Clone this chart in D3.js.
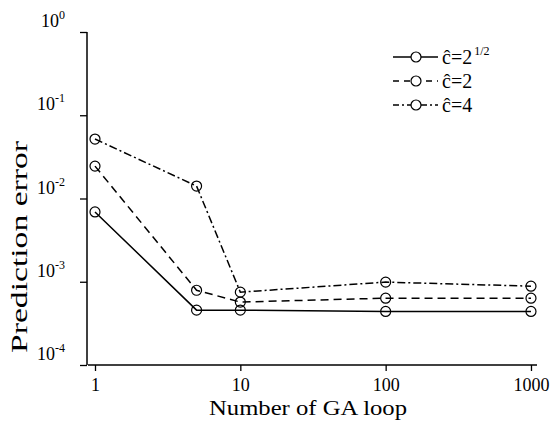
<!DOCTYPE html>
<html><head><meta charset="utf-8">
<script src="https://cdn.jsdelivr.net/npm/d3@7"></script>
<style>
body{margin:0;background:#fff;}
svg text{font-family:"Liberation Serif","Times New Roman",serif;fill:#000;}
</style></head>
<body><svg id="c" width="559" height="426"></svg>
<script>
const loops = [1, 5, 10, 100, 1000];
const seriesNames = ["ĉ=2", "ĉ=2", "ĉ=4"];
const seriesSup = ["1/2", "", ""];
const errSqrt2 = [0.0069, 0.000456, 0.000456, 0.00044, 0.00044];
const err2 = [0.0245, 0.00079, 0.00057, 0.000635, 0.000635];
const err4 = [0.0518, 0.0141, 0.00075, 0.00099, 0.000885];
const xTicks = [1, 10, 100, 1000];
const yTicks = [1, 0.1, 0.01, 0.001, 0.0001];
const yTickExp = ["0", "-1", "-2", "-3", "-4"];

const series = [
  {name: seriesNames[0], sup: seriesSup[0], values: errSqrt2, dash: null, legDash: null},
  {name: seriesNames[1], sup: seriesSup[1], values: err2, dash: "8,5", legDash: "6,5"},
  {name: seriesNames[2], sup: seriesSup[2], values: err4, dash: "8,3,2,3", legDash: "6,3,2,3"}
];

const svg = d3.select("#c");
const x = d3.scaleLog().domain([0.895, 1100]).range([88, 537]);
const y = d3.scaleLog().domain([1e-4, 1]).range([365, 32]);

// x axis
const minors = [];
for (let d = 1; d <= 100; d *= 10) for (let k = 2; k <= 9; k++) minors.push(d * k);
const gx = svg.append("g").attr("transform", "translate(0,365)");
gx.call(d3.axisBottom(x).tickValues(minors).tickSize(4).tickFormat(""));
gx.call(d3.axisBottom(x).tickValues(xTicks).tickSize(6).tickFormat(d3.format("d")).tickPadding(7));
gx.attr("font-family", "Liberation Serif").attr("font-size", 18);
gx.select(".domain").attr("d", "M88,0H537").attr("stroke-width", 1.5);
gx.selectAll("line").attr("stroke-width", 1.3);
gx.selectAll("text").attr("font-size", 18);

// y axis
const gy = svg.append("g").attr("transform", "translate(87,0)");
gy.call(d3.axisLeft(y).tickValues(yTicks).tickSize(7).tickFormat(""));
gy.select(".domain").attr("d", "M0,32V365").attr("stroke-width", 1.5);
gy.selectAll("line").attr("stroke-width", 1.3);
yTicks.forEach((t, i) => {
  const tx = svg.append("text").attr("x", 65).attr("y", y(t) - 5)
    .attr("text-anchor", "end").attr("font-size", 18);
  tx.append("tspan").text("10");
  tx.append("tspan").attr("dy", -8).attr("font-size", 12).text(yTickExp[i]);
});

// titles
svg.append("text").attr("x", 308).attr("y", 415).attr("text-anchor", "middle")
  .attr("font-size", 22).attr("textLength", 198).attr("lengthAdjust", "spacingAndGlyphs")
  .text("Number  of  GA loop");
svg.append("text").attr("transform", "translate(27,247) rotate(-90)")
  .attr("text-anchor", "middle").attr("font-size", 23)
  .attr("textLength", 212).attr("lengthAdjust", "spacingAndGlyphs")
  .text("Prediction error");

// lines + markers
const line = d3.line().x((d, i) => x(loops[i])).y(d => y(d));
series.forEach(s => {
  svg.append("path").datum(s.values).attr("d", line)
    .attr("fill", "none").attr("stroke", "#000").attr("stroke-width", 1.5)
    .attr("stroke-dasharray", s.dash);
  svg.selectAll(null).data(s.values).enter().append("circle")
    .attr("cx", (d, i) => x(loops[i])).attr("cy", d => y(d)).attr("r", 5)
    .attr("fill", "none").attr("stroke", "#000").attr("stroke-width", 1.2);
});

// legend
const legY = [57, 81, 105];
series.forEach((s, i) => {
  const ly = legY[i];
  svg.append("line").attr("x1", 393).attr("x2", 438).attr("y1", ly).attr("y2", ly)
    .attr("stroke", "#000").attr("stroke-width", 1.5).attr("stroke-dasharray", s.legDash);
  svg.append("circle").attr("cx", 416).attr("cy", ly).attr("r", 5)
    .attr("fill", "#fff").attr("stroke", "#000").attr("stroke-width", 1.2);
  const t = svg.append("text").attr("x", 442).attr("y", ly + 7).attr("font-size", 20);
  t.append("tspan").text(s.name);
  if (s.sup) t.append("tspan").attr("dy", -9).attr("dx", 2).attr("font-size", 12).text(s.sup);
});
</script></body></html>
